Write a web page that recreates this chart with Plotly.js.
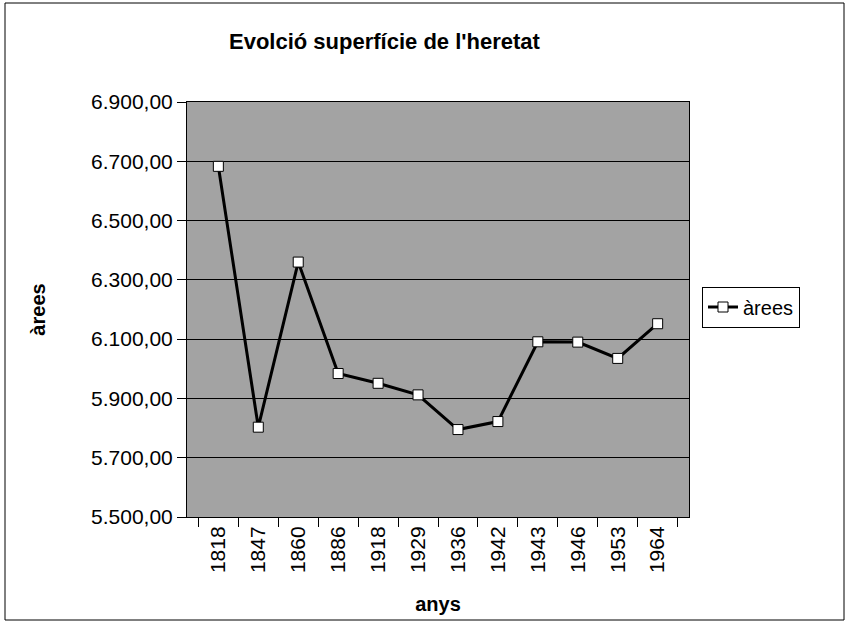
<!DOCTYPE html>
<html>
<head>
<meta charset="utf-8">
<script src="https://cdn.plot.ly/plotly-3.0.1.min.js"></script>
<style>html,body{margin:0;padding:0;background:#fff;}#chart{width:849px;height:626px;}</style>
</head>
<body>
<div id="chart"></div>
<script>
const years = ["1818","1847","1860","1886","1918","1929","1936","1942","1943","1946","1953","1964"];
const arees = [6683, 5803, 6360, 5984, 5951, 5912, 5795, 5822, 6091, 6090, 6035, 6152];
const yTicks = [5500, 5700, 5900, 6100, 6300, 6500, 6700, 6900];
const seriesName = "àrees";
const chartTitle = "Evolció superfície de l'heretat";
const xTitle = "anys";
const yTitle = "àrees";

const font = "Liberation Sans, Arial, sans-serif";
const L = 187, R = 689, T = 102, B = 517, W = 849, H = 626;
const px = x => (x - L) / (R - L);
const py = y => (B - y) / (B - T);

const trace = {
  x: years, y: arees, name: seriesName, type: "scatter", mode: "lines+markers",
  line: {color: "#000", width: 3},
  marker: {symbol: "square", size: 10, color: "#fff", line: {color: "#000", width: 1}}
};

const layout = {
  width: W, height: H,
  margin: {l: L, r: W - R, t: T, b: H - B, pad: 0},
  paper_bgcolor: "#fff", plot_bgcolor: "#a3a3a3",
  separators: ",.",
  font: {family: font, color: "#000", size: 19},
  showlegend: true,
  legend: {x: px(702), y: py(307), xanchor: "left", yanchor: "middle",
           bordercolor: "#000", borderwidth: 1, bgcolor: "#fff",
           font: {family: font, size: 20}, itemwidth: 30},
  xaxis: {type: "category", showgrid: false, zeroline: false,
          showline: true, linecolor: "#000", linewidth: 1, mirror: true,
          ticks: "outside", ticklen: 9, tickcolor: "#000", tickson: "boundaries",
          tickangle: -90, tickfont: {family: font, size: 21},
          title: {text: xTitle, font: {family: font, size: 20, weight: "bold"}, standoff: 24}},
  yaxis: {range: [5500, 6900], tickvals: yTicks, tickformat: ",.2f",
          showgrid: true, gridcolor: "#000", gridwidth: 1, zeroline: false,
          showline: true, linecolor: "#000", linewidth: 1, mirror: true,
          ticks: "outside", ticklen: 9, tickcolor: "#000",
          tickfont: {family: font, size: 21},
          title: {text: yTitle, font: {family: font, size: 20, weight: "bold"}, standoff: 40}},
  annotations: [{text: "<b>" + chartTitle + "</b>", xref: "paper", yref: "paper",
                 x: px(385), y: py(42), xanchor: "center", yanchor: "middle",
                 showarrow: false, font: {family: font, size: 22}}],
  shapes: [{type: "rect", xref: "paper", yref: "paper", x0: px(5), x1: px(844), y0: py(620), y1: py(3),
            line: {color: "#000", width: 1}, layer: "below"}]
};

Plotly.newPlot("chart", [trace], layout, {displayModeBar: false, staticPlot: true});
</script>
</body>
</html>
